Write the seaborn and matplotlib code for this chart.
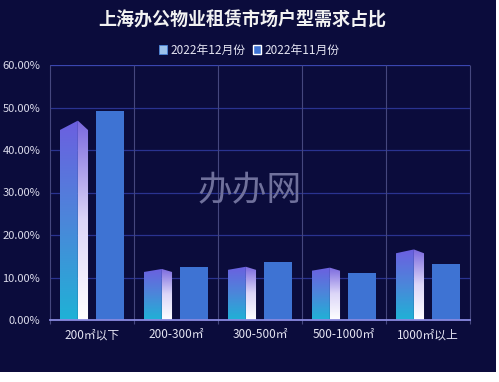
import numpy as np
import pandas as pd
import matplotlib
matplotlib.use("Agg")
import matplotlib.pyplot as plt
import seaborn as sns
from matplotlib.patches import Polygon, Rectangle, Patch
from matplotlib.colors import LinearSegmentedColormap

title = "上海办公物业租赁市场户型需求占比"
categories = ["200㎡以下", "200-300㎡", "300-500㎡", "500-1000㎡", "1000㎡以上"]
series_names = ["2022年12月份", "2022年11月份"]
dec_values = [44.7, 11.3, 11.8, 11.6, 15.7]
nov_values = [49.2, 12.5, 13.6, 11.1, 13.1]
y_ticks = [0, 10, 20, 30, 40, 50, 60]

BG = "#0b0c3c"
NOV_COLOR = "#3e73d3"

sns.set_style("dark")
plt.rcParams['font.family'] = ['Noto Sans CJK SC', 'DejaVu Sans']

df = pd.DataFrame({
    "category": categories * 2,
    "series": [series_names[0]] * len(categories) + [series_names[1]] * len(categories),
    "value": dec_values + nov_values,
})

fig = plt.figure(figsize=(4.99, 3.82), dpi=100, facecolor="white")
# navy panel, white strip at bottom/right like the screenshot
fig.patches.append(Rectangle((0, 10 / 382), 496 / 499, 1 - 10 / 382,
                             transform=fig.transFigure, facecolor=BG,
                             edgecolor="none", zorder=-10))

ax = fig.add_axes([50 / 499, 1 - 320 / 382, 420 / 499, 255 / 382])
ax.set_facecolor(BG)

sns.barplot(data=df, x="category", y="value", hue="series",
            hue_order=series_names, palette=[NOV_COLOR, NOV_COLOR],
            width=0.86, gap=0.22, ax=ax, legend=False, zorder=3,
            linewidth=0, saturation=1)

ax.set_ylim(0, 60)
ax.set_xlim(-0.5, len(categories) - 0.5)

# grid and separators
for v in y_ticks[1:]:
    ax.axhline(v, color="#2a3390" if v < 60 else "#3a46b0", lw=0.9, zorder=1)
ax.vlines(np.arange(len(categories) + 1) - 0.5, -0.9, 60, color="#45477e",
          lw=0.8, zorder=1, clip_on=False)

# gradient prism bars for December
left_cmap = LinearSegmentedColormap.from_list("l", ["#1fb2d6", "#4c86da", "#6c5fe0"])
right_cmap = LinearSegmentedColormap.from_list("r", ["#ffffff", "#dcd6f8", "#7a68de"])
grad = np.linspace(0, 1, 256).reshape(-1, 1)
dec_patches = ax.patches[:len(categories)]
for p in dec_patches:
    x0, w, h = p.get_x(), p.get_width(), p.get_height()
    p.set_visible(False)
    split = x0 + w * 0.64
    roof = h * 0.045 + 0.2
    faces = [
        ([(x0, 0), (x0, h), (split, h + roof), (split, 0)], left_cmap, x0, split),
        ([(split, 0), (split, h + roof), (x0 + w, h), (x0 + w, 0)], right_cmap, split, x0 + w),
    ]
    for verts, cmap, a, b in faces:
        poly = Polygon(verts, closed=True, facecolor="none", edgecolor="none")
        ax.add_patch(poly)
        im = ax.imshow(grad, cmap=cmap, origin="lower", aspect="auto",
                       extent=[a, b, 0, h + roof], zorder=3)
        im.set_clip_path(poly)

ax.set_xlim(-0.5, len(categories) - 0.5)
ax.set_ylim(0, 60)

ax.set_yticks(y_ticks)
ax.set_yticklabels([f"{v:.2f}%" for v in y_ticks], fontsize=8, color="#dcdcec")
ax.tick_params(axis="y", length=0, pad=7)
ax.tick_params(axis="x", length=3, color="#8a8ae0", colors="#e4e4f2",
               labelsize=8.5, pad=3)
ax.set_xlabel("")
ax.set_ylabel("")
for side in ["top", "right", "left"]:
    ax.spines[side].set_visible(False)
ax.spines["bottom"].set_color("#8a8ae0")
ax.spines["bottom"].set_linewidth(1.3)
ax.spines["bottom"].set_zorder(4)

# watermark
ax.text(1.88, 30.5, "办办网", fontsize=25, color="#70719c", ha="center",
        va="center", zorder=2, style="italic")

fig.text(0.485, 1 - 20 / 382, title, fontsize=13, fontweight="bold",
         color="#f2f2f2", ha="center", va="center")

handles = [Patch(facecolor="#9cc2ec", edgecolor="#4c86da", lw=0.6),
           Patch(facecolor=NOV_COLOR)]
fig.legend(handles, series_names, loc="center", bbox_to_anchor=(0.5, 1 - 50 / 382),
           ncol=2, frameon=False, fontsize=8.5, labelcolor="#e4e4f2",
           handlelength=0.7, handleheight=0.7, handletextpad=0.3,
           columnspacing=0.6)

fig.savefig("out.png", dpi=100, facecolor=fig.get_facecolor())
